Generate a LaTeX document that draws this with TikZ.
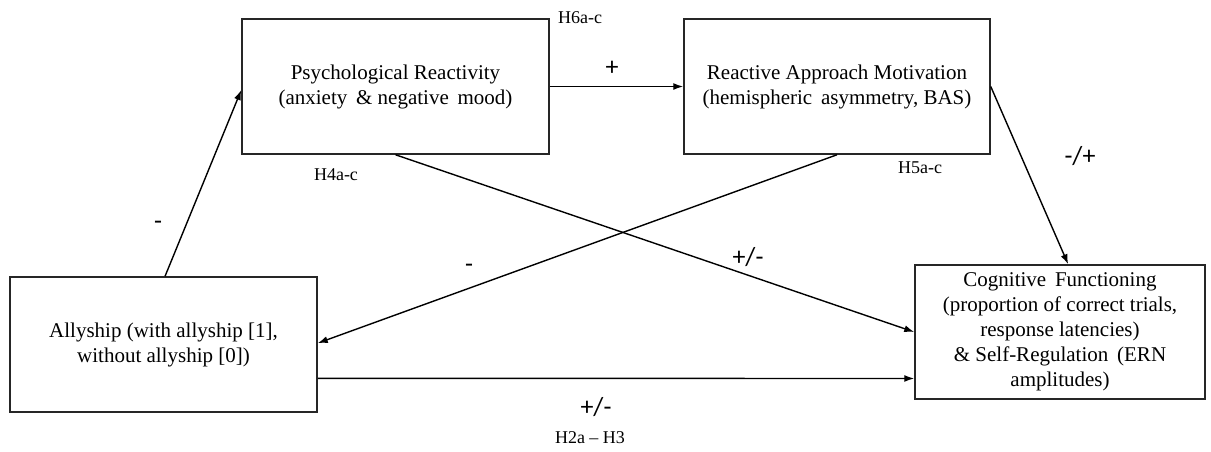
\documentclass[tikz,border=0pt]{standalone}
\usepackage{fontspec}
\setmainfont{Liberation Serif}
\newfontfamily\signfont{Carlito}
\usetikzlibrary{calc,arrows.meta}
\begin{document}
\begin{tikzpicture}[x=1pt,y=-1pt,
  box/.style={draw=black!85,line width=1.5pt,rectangle,inner sep=0pt,align=center,
    font=\fontsize{21}{25}\selectfont},
  hlab/.style={font=\fontsize{18}{20}\selectfont,inner sep=0pt},
  sgn/.style={font=\signfont\fontsize{26}{28}\selectfont,inner sep=0pt},
  conn/.style={line width=1.4pt,-{Latex[length=10pt,width=7pt]}}]
\useasboundingbox (0,0) rectangle (1211,451);
\node[box,minimum width=307pt,minimum height=135pt] (psy) at (395.5,86.5)
  {Psychological Reactivity\\(anxiety \,\& negative \,mood)};
\node[box,minimum width=306pt,minimum height=135pt] (rea) at (837,86.5)
  {Reactive Approach Motivation\\(hemispheric \,asymmetry, BAS)};
\node[box,minimum width=307pt,minimum height=135pt] (ally) at (163.5,344.5)
  {Allyship (with allyship [1],\\without allyship [0])};
\node[box,minimum width=290pt,minimum height=134pt] (cog) at (1060,332)
  {Cognitive \,Functioning\\(proportion of correct trials,\\response latencies)\\\& Self-Regulation \,(ERN\\amplitudes)};
\draw[conn] ($(ally.north west)!0.505!(ally.north east)$) -- ($(psy.north west)!0.526!(psy.south west)$);
\draw[conn] (psy.east) -- (rea.west);
\draw[conn] (rea.east) -- ($(cog.north west)!0.528!(cog.north east)$);
\draw[conn] (rea.south) -- ($(ally.north east)!0.49!(ally.south east)$);
\draw[conn] (psy.south) -- (cog.west);
\draw[conn] ($(ally.north east)!0.748!(ally.south east)$) -- ($(cog.north west)!0.843!(cog.south west)$);
\node[hlab] (h6) at (580,18) {H6a-c};
\node[hlab] (h4) at (336,175) {H4a-c};
\node[hlab] (h5) at (920,168) {H5a-c};
\node[hlab] (h2) at (590,438) {H2a -- H3};
\node[sgn] (s1) at (612,68) {+};
\node[sgn] (s2) at (1080,156) {-/+};
\node[sgn] (s3) at (158,225) {-};
\node[sgn] (s4) at (469,268) {-};
\node[sgn] (s5) at (748,257) {+/-};
\node[sgn] (s6) at (596,407) {+/-};
\end{tikzpicture}
\end{document}
